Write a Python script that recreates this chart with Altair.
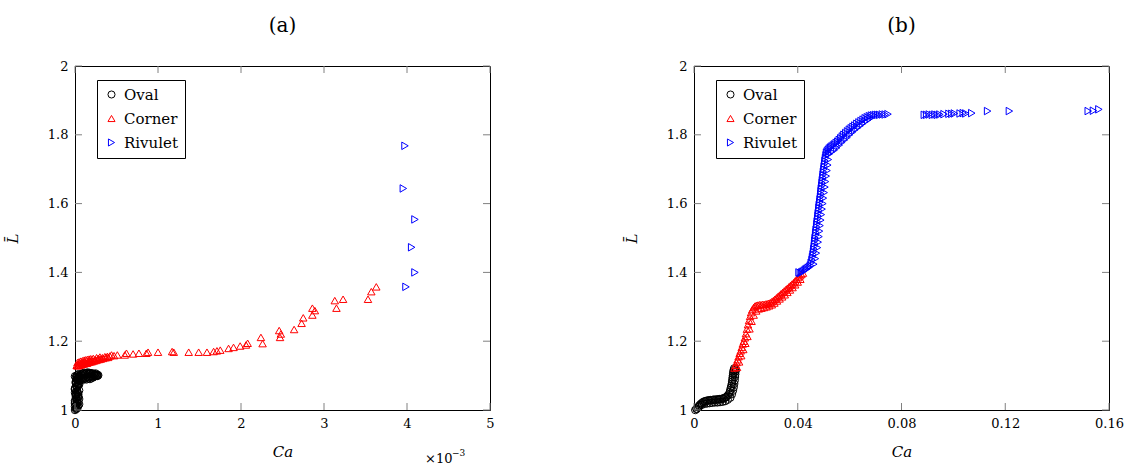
import altair as alt
import pandas as pd

FONT = "DejaVu Serif"

# ---------------- Panel (a): Ca in units of 1e-3 ----------------
oval_a_ca = [0.00, 0.02, 0.01, 0.03, 0.00, 0.02, 0.04, 0.01, 0.03, 0.00, 0.02, 0.04, 0.01, 0.03, 0.02, 0.05, 0.00, 0.04,
             0.07, 0.09, 0.11, 0.13, 0.15, 0.17, 0.19, 0.21, 0.23, 0.25, 0.27,
             0.06, 0.08, 0.10, 0.12, 0.14, 0.16, 0.18, 0.20, 0.22, 0.24, 0.26, 0.28,
             0.01, 0.03, 0.05, 0.00, 0.02, 0.04, 0.01, 0.03, 0.05, 0.00, 0.02, 0.04, 0.01, 0.03, 0.05, 0.00, 0.02,
             0.04, 0.01, 0.03, 0.05, 0.00, 0.02, 0.04, 0.06,
             0.08, 0.10, 0.12, 0.14, 0.16, 0.18, 0.20, 0.22, 0.24, 0.26, 0.05, 0.07, 0.09, 0.11, 0.13, 0.15, 0.17,
             0.19, 0.21, 0.23, 0.25, 0.27,
             0.02, 0.04, 0.00, 0.03, 0.05, 0.01, 0.04, 0.02, 0.00, 0.03, 0.05, 0.01, 0.04, 0.02]
oval_a_L = [1.000, 1.006, 1.013, 1.020, 1.027, 1.034, 1.040, 1.047, 1.053, 1.060, 1.066, 1.072, 1.078, 1.083, 1.089, 1.094, 1.098, 1.104,
            1.090, 1.092, 1.094, 1.093, 1.096, 1.095, 1.098, 1.097, 1.100, 1.099, 1.102,
            1.100, 1.102, 1.104, 1.103, 1.106, 1.105, 1.107, 1.104, 1.106, 1.103, 1.102, 1.101,
            1.003, 1.010, 1.017, 1.023, 1.030, 1.037, 1.043, 1.050, 1.057, 1.063, 1.070, 1.077, 1.083, 1.090, 1.097,
            1.010, 1.045, 1.075, 1.095, 1.101, 1.085, 1.050, 1.100, 1.092, 1.086,
            1.090, 1.088, 1.091, 1.089, 1.092, 1.090, 1.093, 1.095, 1.098, 1.100, 1.097, 1.104, 1.106, 1.108, 1.107,
            1.109, 1.108, 1.107, 1.105, 1.104, 1.106, 1.099,
            1.004, 1.012, 1.018, 1.025, 1.032, 1.038, 1.046, 1.054, 1.061, 1.068, 1.074, 1.080, 1.087, 1.093]

corner_a_ca = [0.02, 0.03, 0.04, 0.05, 0.06, 0.07, 0.08, 0.09, 0.10, 0.11, 0.12, 0.13, 0.14, 0.15, 0.16, 0.17, 0.18, 0.19,
               0.20, 0.22, 0.24, 0.26, 0.28, 0.30, 0.33, 0.36, 0.39, 0.42, 0.44, 0.47,
               0.03, 0.05, 0.07, 0.09, 0.11, 0.13, 0.15, 0.17, 0.19, 0.21, 0.23, 0.25, 0.27, 0.29, 0.31, 0.34, 0.37, 0.40,
               0.51, 0.60, 0.62, 0.70, 0.77, 0.86, 0.88, 1.00, 1.17, 1.19, 1.37, 1.49, 1.59, 1.67, 1.71, 1.75, 1.85, 1.91,
               1.99, 2.06, 2.08, 2.24, 2.26, 2.46, 2.47, 2.48, 2.64, 2.73, 2.75, 2.86, 2.86, 2.89, 3.13, 3.15, 3.23, 3.53,
               3.57, 3.63]
corner_a_L = [1.130, 1.138, 1.132, 1.140, 1.135, 1.142, 1.136, 1.143, 1.138, 1.145, 1.140, 1.146, 1.136, 1.147, 1.141, 1.148,
              1.142, 1.149, 1.144, 1.150, 1.146, 1.152, 1.150, 1.154, 1.152, 1.155, 1.156, 1.157, 1.160, 1.158,
              1.128, 1.130, 1.131, 1.133, 1.134, 1.136, 1.137, 1.139, 1.140, 1.141, 1.143, 1.144, 1.146, 1.147, 1.148,
              1.150, 1.152, 1.153,
              1.160, 1.160, 1.165, 1.163, 1.165, 1.165, 1.168, 1.168, 1.170, 1.168, 1.168, 1.168, 1.168, 1.170, 1.172, 1.174,
              1.179, 1.182, 1.186, 1.189, 1.194, 1.211, 1.193, 1.231, 1.211, 1.221, 1.234, 1.252, 1.268, 1.276, 1.296, 1.289,
              1.318, 1.296, 1.322, 1.322, 1.344, 1.358]

rivulet_a_ca = [3.976, 3.956, 4.096, 4.056, 4.096, 3.988]
rivulet_a_L = [1.768, 1.644, 1.554, 1.473, 1.400, 1.358]

# ---------------- Panel (b) ----------------
oval_b_ca = [0.0005, 0.0010, 0.0015, 0.0020, 0.0025, 0.0030, 0.0035, 0.0040, 0.0045, 0.0050, 0.0055, 0.0060, 0.0065, 0.0070,
             0.0075, 0.0080, 0.0085, 0.0090, 0.0095, 0.0100, 0.0105, 0.0110, 0.0115, 0.0120, 0.0125, 0.0130, 0.0135,
             0.0138, 0.0140, 0.0142, 0.0144, 0.0146, 0.0147, 0.0148, 0.0149, 0.0150, 0.0151, 0.0152, 0.0153, 0.0155,
             0.0010, 0.0020, 0.0030, 0.0040, 0.0050, 0.0060, 0.0070, 0.0080, 0.0090, 0.0100, 0.0110, 0.0120, 0.0130,
             0.0140, 0.0146, 0.0150, 0.0153, 0.0155, 0.0157, 0.0158, 0.0159, 0.0160, 0.0161]
oval_b_L = [1.000, 1.003, 1.008, 1.013, 1.017, 1.020, 1.023, 1.025, 1.026, 1.027, 1.028, 1.028, 1.029, 1.029, 1.030, 1.030,
            1.030, 1.031, 1.031, 1.032, 1.032, 1.033, 1.034, 1.036, 1.038, 1.042, 1.046,
            1.052, 1.058, 1.064, 1.070, 1.076, 1.082, 1.088, 1.094, 1.100, 1.106, 1.111, 1.116, 1.121,
            1.004, 1.010, 1.015, 1.018, 1.019, 1.020, 1.021, 1.022, 1.022, 1.023, 1.024, 1.026, 1.030,
            1.036, 1.046, 1.056, 1.066, 1.076, 1.086, 1.096, 1.104, 1.112, 1.118]

corner_b_ca = [0.0156, 0.0160, 0.0164, 0.0168, 0.0172, 0.0176, 0.0180, 0.0184, 0.0188, 0.0192, 0.0196, 0.0200, 0.0204,
               0.0208, 0.0212, 0.0216, 0.0220, 0.0225, 0.0230, 0.0235, 0.0240,
               0.0246, 0.0252, 0.0258, 0.0264, 0.0270, 0.0276, 0.0282, 0.0288, 0.0294, 0.0300, 0.0306, 0.0312, 0.0318,
               0.0324, 0.0330, 0.0336, 0.0342, 0.0348, 0.0354, 0.0360, 0.0366, 0.0372, 0.0378, 0.0384, 0.0390, 0.0396,
               0.0402, 0.0408, 0.0414, 0.0420,
               0.0166, 0.0174, 0.0182, 0.0190, 0.0198, 0.0206, 0.0214, 0.0222, 0.0230, 0.0240, 0.0250, 0.0260, 0.0270,
               0.0280, 0.0290, 0.0300, 0.0310, 0.0320, 0.0330, 0.0340, 0.0350, 0.0360, 0.0370, 0.0380, 0.0390, 0.0400,
               0.0410]
corner_b_L = [1.122, 1.130, 1.138, 1.146, 1.155, 1.165, 1.172, 1.182, 1.192, 1.200, 1.210, 1.222, 1.235, 1.248, 1.260,
              1.272, 1.283, 1.292, 1.298, 1.302, 1.304,
              1.305, 1.306, 1.306, 1.307, 1.307, 1.308, 1.309, 1.310, 1.312, 1.315, 1.318, 1.322, 1.326, 1.330, 1.334,
              1.338, 1.342, 1.346, 1.350, 1.354, 1.358, 1.362, 1.366, 1.370, 1.375, 1.380, 1.385, 1.390, 1.394, 1.398,
              1.124, 1.140, 1.158, 1.176, 1.194, 1.214, 1.236, 1.258, 1.276, 1.288, 1.294, 1.296, 1.298, 1.300, 1.303,
              1.306, 1.311, 1.317, 1.323, 1.329, 1.335, 1.342, 1.349, 1.356, 1.364, 1.372, 1.380]

rivulet_b_ca = [0.0405, 0.0410, 0.0415, 0.0420, 0.0425, 0.0430, 0.0435, 0.0440, 0.0445,
                0.0449, 0.0452, 0.0455, 0.0457, 0.0459, 0.0461, 0.0462, 0.0464, 0.0465, 0.0466, 0.0467, 0.0469, 0.0470,
                0.0471, 0.0473, 0.0474, 0.0475, 0.0477, 0.0478, 0.0479, 0.0481, 0.0482, 0.0483, 0.0485, 0.0486, 0.0488,
                0.0489, 0.0490, 0.0491, 0.0493, 0.0494, 0.0495, 0.0497, 0.0498, 0.0499, 0.0501, 0.0502, 0.0504, 0.0505,
                0.0507, 0.0509, 0.0511,
                0.0462, 0.0468, 0.0472, 0.0476, 0.0479, 0.0482, 0.0484, 0.0486, 0.0489, 0.0491, 0.0494, 0.0497, 0.0499,
                0.0502, 0.0505, 0.0507, 0.0510, 0.0513, 0.0516, 0.0518, 0.0521,
                0.0514, 0.0518, 0.0522, 0.0527, 0.0532, 0.0537, 0.0542, 0.0548, 0.0554, 0.0560, 0.0566, 0.0572, 0.0578,
                0.0585, 0.0592, 0.0599, 0.0606, 0.0613, 0.0620, 0.0628, 0.0636, 0.0644, 0.0652, 0.0660, 0.0668, 0.0676,
                0.0684, 0.0692, 0.0700, 0.0708, 0.0716, 0.0726, 0.0737, 0.0748,
                0.0520, 0.0530, 0.0540, 0.0550, 0.0560, 0.0570, 0.0580, 0.0590, 0.0600, 0.0610, 0.0620, 0.0630, 0.0640,
                0.0650, 0.0660, 0.0670, 0.0680,
                0.0888, 0.0897, 0.0907, 0.0919, 0.0929, 0.0938, 0.0948, 0.0964, 0.0983, 0.0994, 0.1004, 0.1026, 0.1038,
                0.1048, 0.1071, 0.1132, 0.1216, 0.1520, 0.1540, 0.1561]
rivulet_b_L = [1.400, 1.398, 1.400, 1.402, 1.405, 1.408, 1.410, 1.413, 1.416,
               1.420, 1.428, 1.436, 1.444, 1.452, 1.460, 1.468, 1.476, 1.484, 1.492, 1.500, 1.508, 1.516, 1.524, 1.532,
               1.540, 1.548, 1.556, 1.564, 1.572, 1.580, 1.588, 1.596, 1.604, 1.612, 1.620, 1.628, 1.636, 1.644, 1.652,
               1.660, 1.668, 1.676, 1.684, 1.692, 1.700, 1.708, 1.716, 1.724, 1.732, 1.740, 1.748,
               1.424, 1.440, 1.456, 1.472, 1.488, 1.504, 1.520, 1.536, 1.552, 1.568, 1.584, 1.600, 1.616, 1.632, 1.648,
               1.664, 1.680, 1.696, 1.712, 1.728, 1.744,
               1.752, 1.756, 1.760, 1.763, 1.766, 1.769, 1.772, 1.776, 1.780, 1.785, 1.790, 1.795, 1.800, 1.805, 1.810,
               1.815, 1.819, 1.823, 1.827, 1.832, 1.836, 1.840, 1.844, 1.848, 1.851, 1.854, 1.856, 1.857, 1.858, 1.858,
               1.858, 1.859, 1.859, 1.860,
               1.745, 1.750, 1.755, 1.762, 1.770, 1.778, 1.785, 1.792, 1.800, 1.807, 1.814, 1.820, 1.826, 1.832, 1.838,
               1.843, 1.848,
               1.858, 1.858, 1.859, 1.858, 1.859, 1.858, 1.859, 1.860, 1.861, 1.861, 1.862, 1.862, 1.863, 1.862, 1.863,
               1.869, 1.869, 1.869, 1.870, 1.874]

categories = ["Oval", "Corner", "Rivulet"]
colors = ["black", "red", "blue"]
shapes = ["circle", "triangle-up", "triangle-right"]

x_ticks_a = [0, 1, 2, 3, 4, 5]
x_ticks_b = [0, 0.04, 0.08, 0.12, 0.16]
y_ticks = [1, 1.2, 1.4, 1.6, 1.8, 2]

W, H = 415, 344
TICK = 7
TICK_COLOR = "#808080"


def make_df(groups):
    rows = []
    for name, xs, ys in groups:
        assert len(xs) == len(ys), name
        for x, y in zip(xs, ys):
            rows.append({"Ca": x, "L": y, "type": name})
    return pd.DataFrame(rows)


def panel(df, xdom, xticks, title, extra=None):
    xs = alt.Scale(domain=xdom, nice=False, zero=False)
    ys = alt.Scale(domain=[1, 2], nice=False, zero=False)
    xaxis = alt.Axis(values=xticks, labelExpr="format(datum.value, '~g')", title="Ca",
                     ticks=False, domain=False, grid=False, labelFont=FONT, labelFontSize=13,
                     labelColor="black", labelPadding=7, titleFont=FONT, titleFontSize=15,
                     titleFontStyle="italic", titleFontWeight="normal", titleColor="black",
                     titlePadding=14, labelFlush=False)
    yaxis = alt.Axis(values=y_ticks, labelExpr="format(datum.value, '~g')", title="L\u0304",
                     ticks=False, domain=False, grid=False, labelFont=FONT, labelFontSize=13,
                     labelColor="black", labelPadding=7, titleFont=FONT, titleFontSize=15,
                     titleFontStyle="italic", titleFontWeight="normal", titleColor="black",
                     titlePadding=27, labelFlush=False)
    leg = alt.Legend(title=None, orient="none", legendX=22, legendY=14, direction="vertical",
                     strokeColor="black", fillColor="white", padding=7, cornerRadius=0,
                     labelFont=FONT, labelFontSize=15, labelColor="black", labelOffset=5,
                     symbolSize=50, symbolStrokeWidth=1, rowPadding=8)
    xt = pd.DataFrame({"Ca": xticks})
    yt = pd.DataFrame({"L": y_ticks})
    rb = alt.Chart(xt).mark_rule(color=TICK_COLOR, strokeWidth=1).encode(
        x=alt.X("Ca:Q", scale=xs, axis=xaxis), y=alt.value(H), y2=alt.value(H - TICK))
    rt = alt.Chart(xt).mark_rule(color=TICK_COLOR, strokeWidth=1).encode(
        x=alt.X("Ca:Q", scale=xs, axis=xaxis), y=alt.value(0), y2=alt.value(TICK))
    rl = alt.Chart(yt).mark_rule(color=TICK_COLOR, strokeWidth=1).encode(
        y=alt.Y("L:Q", scale=ys, axis=yaxis), x=alt.value(0), x2=alt.value(TICK))
    rr = alt.Chart(yt).mark_rule(color=TICK_COLOR, strokeWidth=1).encode(
        y=alt.Y("L:Q", scale=ys, axis=yaxis), x=alt.value(W - TICK), x2=alt.value(W))
    pts = alt.Chart(df).mark_point(filled=False, size=56, strokeWidth=1, opacity=1).encode(
        x=alt.X("Ca:Q", scale=xs, axis=xaxis),
        y=alt.Y("L:Q", scale=ys, axis=yaxis),
        color=alt.Color("type:N", scale=alt.Scale(domain=categories, range=colors), legend=leg),
        shape=alt.Shape("type:N", scale=alt.Scale(domain=categories, range=shapes), legend=leg),
    )
    layers = [pts, rb, rt, rl, rr]
    if extra is not None:
        layers += extra
    return alt.layer(*layers).properties(
        width=W, height=H,
        title=alt.TitleParams(title, font=FONT, fontSize=20, fontWeight="normal", color="black",
                              anchor="middle", offset=24))


df_a = make_df([("Oval", oval_a_ca, oval_a_L), ("Corner", corner_a_ca, corner_a_L),
                ("Rivulet", rivulet_a_ca, rivulet_a_L)])
df_b = make_df([("Oval", oval_b_ca, oval_b_L), ("Corner", corner_b_ca, corner_b_L),
                ("Rivulet", rivulet_b_ca, rivulet_b_L)])

mult_base = alt.Chart(pd.DataFrame({"t": ["\u00d710"]})).mark_text(
    font=FONT, fontSize=13, align="left", baseline="alphabetic", color="black").encode(
    x=alt.value(350), y=alt.value(397), text="t:N")
mult_exp = alt.Chart(pd.DataFrame({"t": ["\u22123"]})).mark_text(
    font=FONT, fontSize=9, align="left", baseline="alphabetic", color="black").encode(
    x=alt.value(377), y=alt.value(390), text="t:N")

chart_a = panel(df_a, [0, 5], x_ticks_a, "(a)", extra=[mult_base, mult_exp])
chart_b = panel(df_b, [0, 0.16], x_ticks_b, "(b)")

chart = alt.hconcat(chart_a, chart_b, spacing=204, bounds="flush").resolve_scale(
    color="independent", shape="independent", x="independent", y="independent"
).configure_view(stroke="black", strokeWidth=1).properties(
    padding={"left": 4, "top": 15, "right": 5, "bottom": 5}, background="white")

chart.save("out.html", embed_options={"renderer": "svg", "actions": False})
